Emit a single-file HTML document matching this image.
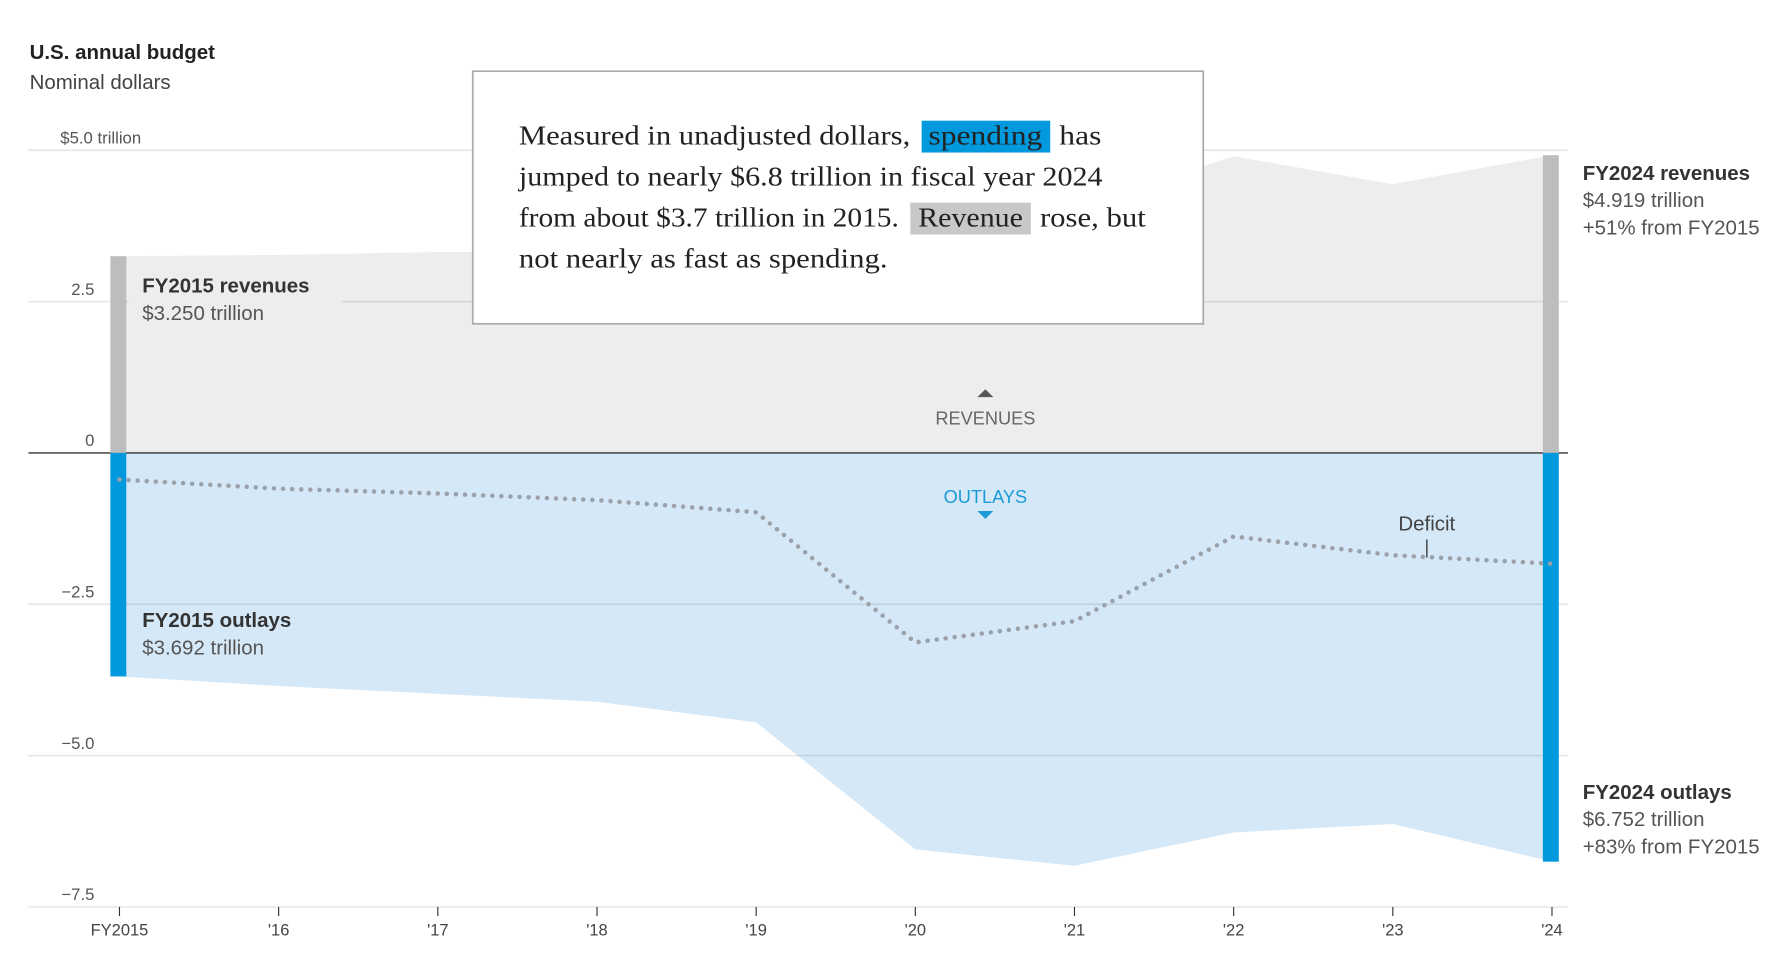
<!DOCTYPE html>
<html><head><meta charset="utf-8"><style>
html,body{margin:0;padding:0;background:#fff;}
svg{display:block;font-family:"Liberation Sans",sans-serif;}
</style></head><body>
<svg id="chart" width="1775" height="973" viewBox="0 0 1560 855" xmlns="http://www.w3.org/2000/svg">
<text x="26" y="52" font-size="18" font-weight="bold" fill="#222">U.S. annual budget</text>
<text x="26" y="78" font-size="18" fill="#444">Nominal dollars</text>
<g id="areas"></g>
<g id="grid"></g>
<g id="marks"></g>
<g id="labels"></g>
</svg>
<script>
const years = [2015,2016,2017,2018,2019,2020,2021,2022,2023,2024];
const xLabels = ["FY2015","'16","'17","'18","'19","'20","'21","'22","'23","'24"];
const revenues = [3.25,3.27,3.32,3.33,3.46,3.42,4.05,4.90,4.44,4.919];
const outlays = [3.692,3.85,3.98,4.11,4.45,6.55,6.82,6.27,6.13,6.752];
const deficit = [-0.44,-0.59,-0.67,-0.78,-0.98,-3.13,-2.78,-1.38,-1.69,-1.83];
const yTicks = [5,2.5,0,-2.5,-5,-7.5];
const yTickLabels = ["$5.0 trillion","2.5","0","\u22122.5","\u22125.0","\u22127.5"];

const NS="http://www.w3.org/2000/svg";
const x = i => 105 + i*(1364-105)/(years.length-1);
const y = v => 398 - v*53.2;
function mk(tag, attrs, parent, txt){
  const e=document.createElementNS(NS,tag);
  for(const k in attrs) e.setAttribute(k,attrs[k]);
  if(txt!==undefined) e.textContent=txt;
  document.getElementById(parent).appendChild(e);
  return e;
}
const n=years.length;
let rp=`M${x(0)},${y(0)}`; revenues.forEach((v,i)=>rp+=` L${x(i)},${y(v)}`); rp+=` L${x(n-1)},${y(0)}Z`;
let ra=mk('path',{d:rp,fill:'#ededee'},'areas');


let op=`M${x(0)},${y(0)}`; outlays.forEach((v,i)=>op+=` L${x(i)},${y(-v)}`); op+=` L${x(n-1)},${y(0)}Z`;
let oa=mk('path',{d:op,fill:'#d5e8f7'},'areas');


yTicks.forEach((t,i)=>{
  const g=mk('line',{x1:25,x2:1378,y1:y(t),y2:y(t),stroke:t===0?'#333':'#000','stroke-opacity':t===0?1:0.09,'stroke-width':t===0?1.3:1.5},'grid');
  
  
  const lx = i===0?53:83;
  const tl=mk('text',{x:lx,y:y(t)-6,'font-size':14.7,fill:'#555','text-anchor':i===0?'start':'end'},'labels',yTickLabels[i]);
  
  
});
years.forEach((yr,i)=>{
  const t=mk('line',{x1:x(i),x2:x(i),y1:797,y2:805,stroke:'#333','stroke-width':1},'marks');
  
  
  const l=mk('text',{x:x(i),y:822,'font-size':14.5,fill:'#444','text-anchor':'middle'},'labels',xLabels[i]);
  
  
});
const bars=[[0,revenues[0],'#bdbdbd','bar-fy2015-revenues'],[0,-outlays[0],'#0099dd','bar-fy2015-outlays'],[n-1,revenues[n-1],'#bdbdbd','bar-fy2024-revenues'],[n-1,-outlays[n-1],'#0099dd','bar-fy2024-outlays']];
bars.forEach(b=>{
  const top=Math.min(y(0),y(b[1])), h=Math.abs(y(b[1])-y(0));
  const r=mk('rect',{x:x(b[0])-8,y:top,width:14,height:h,fill:b[2]},'marks');
  
  
});
let dp=''; deficit.forEach((v,i)=>dp+=(i?' L':'M')+x(i)+','+y(v));
const dl=mk('path',{d:dp,fill:'none',stroke:'#9aa1a9','stroke-width':4,'stroke-linecap':'round','stroke-dasharray':'0 8'},'marks');


</script>
<script>
function T(txt,xx,yy,sz,col,w,name,anchor){
  const e=document.createElementNS("http://www.w3.org/2000/svg",'text');
  e.setAttribute('x',xx);e.setAttribute('y',yy);e.setAttribute('font-size',sz);e.setAttribute('fill',col);
  if(w)e.setAttribute('font-weight','bold');
  if(anchor)e.setAttribute('text-anchor',anchor);
  e.textContent=txt;
  
  
  document.getElementById('labels').appendChild(e);
}
const lbls=document.getElementById('labels');
const bg=document.createElementNS("http://www.w3.org/2000/svg",'rect');
bg.setAttribute('x',113);bg.setAttribute('y',238);bg.setAttribute('width',188);bg.setAttribute('height',50);bg.setAttribute('fill','#ededee');


lbls.appendChild(bg);
T('FY2015 revenues',125,257,18,'#333',1,'fy2015-revenues-label');
T('$3.250 trillion',125,281,18,'#555',0,'fy2015-revenues-value');
T('FY2015 outlays',125,551,18,'#333',1,'fy2015-outlays-label');
T('$3.692 trillion',125,575,18,'#555',0,'fy2015-outlays-value');
T('FY2024 revenues',1391,158,18,'#333',1,'fy2024-revenues-label');
T('$4.919 trillion',1391,182,18,'#555',0,'fy2024-revenues-value');
T('+51% from FY2015',1391,206,18,'#555',0,'fy2024-revenues-change');
T('FY2024 outlays',1391,702,18,'#333',1,'fy2024-outlays-label');
T('$6.752 trillion',1391,726,18,'#555',0,'fy2024-outlays-value');
T('+83% from FY2015',1391,750,18,'#555',0,'fy2024-outlays-change');
T('REVENUES',866,373,16,'#666',0,'revenues-area-label','middle');
T('OUTLAYS',866,442,16,'#1a9bd7',0,'outlays-area-label','middle');
T('Deficit',1254,466,18,'#444',0,'deficit-label','middle');
</script>
<svg style="position:absolute;left:0;top:0" width="1775" height="973" viewBox="0 0 1560 855">
<polygon points="859,349 873,349 866,342" fill="#555"/>
<polygon points="859,449 873,449 866,456" fill="#1a9bd7"/>
<line x1="1254" y1="474" x2="1254" y2="490" stroke="#444" stroke-width="1.3"/>
<g>
<rect x="415.5" y="62.5" width="642" height="222" fill="#fff" stroke="#aaa" stroke-width="1.5"/>
<rect x="810" y="106" width="113" height="28" fill="#0099dd"/>
<rect x="800" y="178" width="106" height="28" fill="#c8c8c8"/>
<g font-family="'Liberation Serif',serif" font-size="24" fill="#222">
<text><tspan x="456" y="127" textLength="344" lengthAdjust="spacingAndGlyphs">Measured in unadjusted dollars,</tspan><tspan x="816" y="127" textLength="100" lengthAdjust="spacingAndGlyphs">spending</tspan><tspan x="931" y="127" textLength="37" lengthAdjust="spacingAndGlyphs">has</tspan></text>
<text x="456" y="163" textLength="513" lengthAdjust="spacingAndGlyphs">jumped to nearly $6.8 trillion in fiscal year 2024</text>
<text><tspan x="456" y="199" textLength="334" lengthAdjust="spacingAndGlyphs">from about $3.7 trillion in 2015.</tspan><tspan x="807" y="199" textLength="92" lengthAdjust="spacingAndGlyphs">Revenue</tspan><tspan x="914" y="199" textLength="93" lengthAdjust="spacingAndGlyphs">rose, but</tspan></text>
<text x="456" y="235" textLength="324" lengthAdjust="spacingAndGlyphs">not nearly as fast as spending.</text>
</g>
</g>
</svg>
</body></html>
